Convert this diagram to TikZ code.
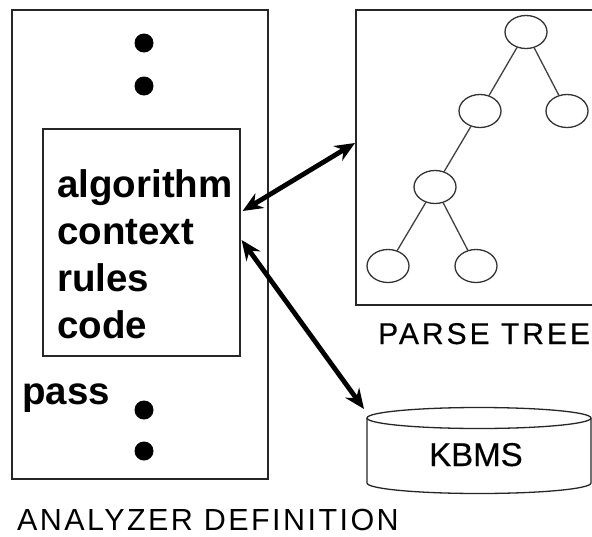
\documentclass[tikz,border=0pt]{standalone}
\usepackage{fontspec}
\setmainfont{Liberation Sans}
\newfontfamily\trackedfont[LetterSpace=10,FakeBold=0.4]{Liberation Sans}
\newfontfamily\widefont[LetterSpace=8]{Liberation Sans}
\newfontfamily\plainfont[FakeBold=0.4]{Liberation Sans}
\usetikzlibrary{arrows.meta,calc,shapes.geometric}

\begin{document}
\begin{tikzpicture}[x=1pt,y=-1pt,
  frame/.style={draw=black!85, line width=1.6pt, inner sep=0pt, anchor=north west},
  treenode/.style={ellipse, draw=black!80, line width=1.3pt, minimum width=42pt,
    minimum height=33pt, inner sep=0pt},
  treeedge/.style={draw=black!75, line width=1.3pt},
  field/.style={anchor=base west, inner sep=0pt,
    font=\fontsize{38.5}{44}\selectfont\bfseries},
  caption/.style={anchor=base west, inner sep=0pt, text depth=0pt},
  link/.style={line width=4.8pt, {Stealth[length=20pt,width=17pt]}-{Stealth[length=20pt,width=17pt]}},
  dot/.style={circle, fill=black, inner sep=0pt, minimum size=19pt}
]
\clip (0,0) rectangle (592,536);
\fill[white] (0,0) rectangle (592,536);

% analyzer definition with its pass block
\node[frame, minimum width=256pt, minimum height=469pt] (analyzer) at (11,9) {};
\node[frame, minimum width=197pt, minimum height=227pt] (block) at (42,128) {};
\node[field] (falg) at (57,197) {algorithm};
\node[field] (fctx) at (57,244) {context};
\node[field] (frul) at (57,291) {rules};
\node[field] (fcod) at (57,338) {code};
\node[field] (pass) at (22,404) {pass};
\node[dot] (d1) at (144,43) {};
\node[dot] (d2) at (144,86) {};
\node[dot] (d3) at (144,410) {};
\node[dot] (d4) at (144,451) {};
\node[caption, font=\fontsize{30.5}{36}\selectfont\widefont] (acap) at (17,530) {ANALYZER DEFINITION};

% parse tree
\node[frame, minimum width=245pt, minimum height=295pt] (tree) at (355,9) {};
\node[treenode] (t0) at (526,32) {};
\node[treenode] (t1) at (480,111) {};
\node[treenode] (t2) at (567,111) {};
\node[treenode] (t3) at (435,187) {};
\node[treenode] (t4) at (388,266) {};
\node[treenode] (t5) at (476,266) {};
\draw[treeedge] (t0) -- (t1);
\draw[treeedge] (t0) -- (t2);
\draw[treeedge] (t1) -- (t3);
\draw[treeedge] (t3) -- (t4);
\draw[treeedge] (t3) -- (t5);
\node[caption, font=\fontsize{30}{36}\selectfont\trackedfont] (pcap) at (378,344) {PARSE TREE};

% knowledge base cylinder
\draw[draw=black!85, line width=1.3pt, fill=white]
  (367,418) -- (367,483) arc[start angle=180, end angle=0, x radius=112, y radius=10.5]
  -- (591,418);
\draw[draw=black!85, line width=1.3pt] (479,418) ellipse[x radius=112, y radius=10.5];
\node[caption, font=\fontsize{33}{38}\selectfont\plainfont] (kbms) at (429,466) {KBMS};
\coordinate (kbtop) at (364,409);

% connectors
\coordinate (blockA) at ($(block.north east)+(2,83)$);
\coordinate (blockB) at ($(block.north east)+(1,112)$);
\coordinate (treeA) at ($(tree.north west)+(0,134)$);
\draw[link] (blockA) -- (treeA);
\draw[link] (blockB) -- (kbtop);
\end{tikzpicture}
\end{document}
